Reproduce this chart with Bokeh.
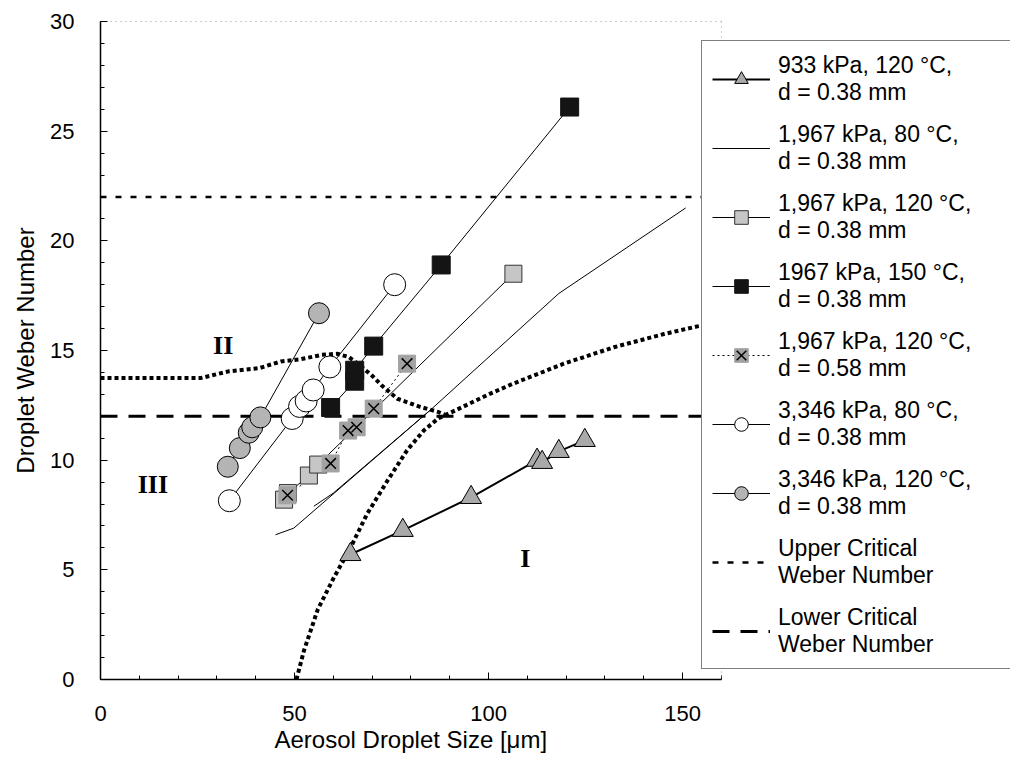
import math
from bokeh.plotting import figure
from bokeh.models import Legend, LegendItem, Range1d, FixedTicker, LinearAxis, Span, Title
from bokeh.embed import file_html
from bokeh.resources import INLINE
from bokeh.core.properties import value

nan = float("nan")

# ---------------- data ----------------
# 933 kPa, 120 °C, d = 0.38 mm (triangles)
tri_x = [64.4, 77.9, 95.5, 112.5, 113.8, 118.1, 124.8]
tri_y = [5.7, 6.8, 8.3, 10.0, 9.9, 10.4, 10.9]

# 1,967 kPa, 80 °C, d = 0.38 mm (line only, two branches)
l80_x = [45.1, 49.8, 85.1, 118.1, 150.8, nan, 55.0, 60.0, 85.1]
l80_y = [6.6, 6.9, 12.3, 17.6, 21.5, nan, 7.9, 8.5, 12.3]

# 1,967 kPa, 120 °C, d = 0.38 mm (light grey squares)
gsq_x = [47.3, 48.3, 53.7, 56.1, 106.4]
gsq_y = [8.2, 8.5, 9.3, 9.8, 18.5]

# 1967 kPa, 150 °C, d = 0.38 mm (black squares)
bsq_x = [59.3, 65.5, 65.5, 70.4, 87.8, 120.9]
bsq_y = [12.4, 13.6, 14.1, 15.2, 18.9, 26.1]

# 1,967 kPa, 120 °C, d = 0.58 mm (grey squares with X)
xsq_x = [48.2, 59.3, 63.8, 66.0, 70.4, 79.0]
xsq_y = [8.4, 9.85, 11.35, 11.5, 12.35, 14.4]

# 3,346 kPa, 80 °C, d = 0.38 mm (open circles)
oc_x = [33.2, 49.4, 51.3, 53.0, 54.8, 59.1, 75.8]
oc_y = [8.15, 11.9, 12.45, 12.7, 13.2, 14.25, 18.0]

# 3,346 kPa, 120 °C, d = 0.38 mm (grey circles)
gc_x = [32.8, 35.9, 38.2, 39.1, 41.2, 56.3]
gc_y = [9.7, 10.55, 11.25, 11.5, 11.95, 16.7]

# critical Weber numbers
crit_x = [0, 160]
upper_y = [22, 22]
lower_y = [12, 12]

# regime boundary curves (thick dotted)
b1_x = [0, 10, 20, 26, 33, 41, 46.5, 51.5, 57, 61, 64, 67, 70, 72.5, 76.5, 82, 87, 89]
b1_y = [13.75, 13.75, 13.75, 13.75, 14.05, 14.2, 14.5, 14.6, 14.8, 14.85, 14.7, 14.3, 13.85, 13.4, 12.8, 12.45, 12.2, 12.05]
b2_x = [50.5, 52.4, 56, 60, 64.4, 68.7, 73.9, 79, 83.3, 87, 93.6, 100, 106.5, 119.4, 132.3, 145.2, 153.8, 159]
b2_y = [0, 1.3, 3.2, 4.6, 6.0, 7.55, 9.05, 10.45, 11.35, 11.9, 12.45, 13.0, 13.5, 14.4, 15.15, 15.75, 16.1, 16.25]

# regime labels
region_x = [31.6, 13.5, 109.5]
region_y = [15.25, 8.9, 5.5]
region_text = ["II", "III", "I"]

x_ticks = [0, 50, 100, 150]
x_minor = list(range(0, 161, 10))
y_ticks = [0, 5, 10, 15, 20, 25, 30]
y_minor = list(range(0, 31, 1))
x_axis_end = 160

legend_labels = [
    "933 kPa, 120 °C,\nd = 0.38 mm",
    "1,967 kPa, 80 °C,\nd = 0.38 mm",
    "1,967 kPa, 120 °C,\nd = 0.38 mm",
    "1967 kPa, 150 °C,\nd = 0.38 mm",
    "1,967 kPa, 120 °C,\nd = 0.58 mm",
    "3,346 kPa, 80 °C,\nd = 0.38 mm",
    "3,346 kPa, 120 °C,\nd = 0.38 mm",
    "Upper Critical\nWeber Number",
    "Lower Critical\nWeber Number",
]

FONT = "Liberation Sans"

# frame: 910 px wide for 0..234.5 -> 3.88 px per unit (the drawn axis ends at 160)
p = figure(width=1016, height=760, output_backend="svg", toolbar_location=None,
           x_range=Range1d(0, 234.5), y_range=Range1d(0, 30),
           min_border_left=100, min_border_right=6, min_border_top=21, min_border_bottom=81)
p.xgrid.visible = False
p.ygrid.visible = False
p.background_fill_color = "white"
p.border_fill_color = "white"
p.outline_line_color = None

p.xaxis.ticker = FixedTicker(ticks=x_ticks, minor_ticks=x_minor)
p.yaxis.ticker = FixedTicker(ticks=y_ticks, minor_ticks=y_minor)
p.xaxis.bounds = (0, x_axis_end)
for ax in (p.xaxis[0], p.yaxis[0]):
    ax.axis_line_color = "black"
    ax.axis_line_width = 1.5
    ax.major_tick_in = 7
    ax.major_tick_out = 0
    ax.minor_tick_in = 4
    ax.minor_tick_out = 0
    ax.major_tick_line_color = "black"
    ax.minor_tick_line_color = "black"
    ax.major_label_text_font = FONT
    ax.major_label_text_font_size = "22px"
    ax.major_label_text_color = "black"
    ax.axis_label_text_font = FONT
    ax.axis_label_text_font_size = "24px"
    ax.axis_label_text_font_style = "normal"
    ax.axis_label_text_color = "black"
p.yaxis.axis_label = "Droplet Weber Number"
p.xaxis.major_label_standoff = 26
p.yaxis.major_label_standoff = 26
p.yaxis.axis_label_standoff = 8

# x-axis title centred under the drawn axis (0..160), not under the whole frame
p.add_layout(Title(text="Aerosol Droplet Size [μm]", align="left", offset=174, standoff=0,
                   text_font=FONT, text_font_size="24px", text_font_style="normal",
                   text_color="black"), "below")

# faint dotted top / right border of the plotting area
top_axis = LinearAxis(bounds=(0, x_axis_end), ticker=FixedTicker(ticks=[]), major_label_text_font_size="0px",
                      axis_line_color="#9a9a9a", axis_line_dash="1 4", axis_line_width=1,
                      major_tick_line_color=None, minor_tick_line_color=None)
p.add_layout(top_axis, "above")
p.add_layout(Span(location=x_axis_end, dimension="height", line_color="#9a9a9a",
                  line_dash="1 4", line_width=1))

# boundary curves
p.line(b1_x, b1_y, line_color="black", line_width=4, line_dash="4 3")
p.line(b2_x, b2_y, line_color="black", line_width=4, line_dash="4 3")

# critical lines
r_up = p.line(crit_x, upper_y, line_color="black", line_width=2.5, line_dash="6 9")
r_lo = p.line(crit_x, lower_y, line_color="black", line_width=3, line_dash="17 11")

# series lines
r_tri_l = p.line(tri_x, tri_y, line_color="black", line_width=2)
r_80 = p.line(l80_x, l80_y, line_color="black", line_width=1)
r_gsq_l = p.line(gsq_x, gsq_y, line_color="black", line_width=1)
r_bsq_l = p.line(bsq_x, bsq_y, line_color="black", line_width=1)
r_xsq_l = p.line(xsq_x, xsq_y, line_color="black", line_width=1, line_dash="2 3")
r_oc_l = p.line(oc_x, oc_y, line_color="black", line_width=1)
r_gc_l = p.line(gc_x, gc_y, line_color="black", line_width=1)

# markers
r_tri = p.scatter(tri_x, tri_y, marker="triangle", size=21, fill_color="#a9a9a9", line_color="black", line_width=1)
r_gsq = p.scatter(gsq_x, gsq_y, marker="square", size=17, fill_color="#c6c6c6", line_color="#333333", line_width=1)
r_bsq = p.scatter(bsq_x, bsq_y, marker="square", size=18, fill_color="#141414", line_color="#141414", line_width=1)
r_xsq = p.scatter(xsq_x, xsq_y, marker="square", size=17, fill_color="#a2a2a2", line_color="#a2a2a2", line_width=1)
r_xsq_x = p.scatter(xsq_x, xsq_y, marker="x", size=15, line_color="black", line_width=1.5)
r_oc = p.scatter(oc_x, oc_y, marker="circle", size=22, fill_color="white", line_color="black", line_width=1)
r_gc = p.scatter(gc_x, gc_y, marker="circle", size=21, fill_color="#b4b4b4", line_color="black", line_width=1)

# regime labels
p.text(region_x, region_y, text=region_text, text_font=value("Liberation Serif"), text_font_style="bold",
       text_font_size="26px", text_align="center", text_baseline="middle", text_color="black")

items = [
    LegendItem(label=legend_labels[0], renderers=[r_tri_l, r_tri]),
    LegendItem(label=legend_labels[1], renderers=[r_80]),
    LegendItem(label=legend_labels[2], renderers=[r_gsq_l, r_gsq]),
    LegendItem(label=legend_labels[3], renderers=[r_bsq_l, r_bsq]),
    LegendItem(label=legend_labels[4], renderers=[r_xsq_l, r_xsq, r_xsq_x]),
    LegendItem(label=legend_labels[5], renderers=[r_oc_l, r_oc]),
    LegendItem(label=legend_labels[6], renderers=[r_gc_l, r_gc]),
    LegendItem(label=legend_labels[7], renderers=[r_up]),
    LegendItem(label=legend_labels[8], renderers=[r_lo]),
]
legend = Legend(items=items, location=(601, 10), margin=0, padding=10, spacing=14,
                glyph_width=58, glyph_height=34, label_height=55, label_width=235,
                label_standoff=8, label_text_font=FONT, label_text_font_size="23px",
                label_text_color="black", border_line_color="black", border_line_width=1.5,
                background_fill_color="white", background_fill_alpha=1.0)
p.add_layout(legend, "center")

open("out.html", "w").write(file_html(p, INLINE))
